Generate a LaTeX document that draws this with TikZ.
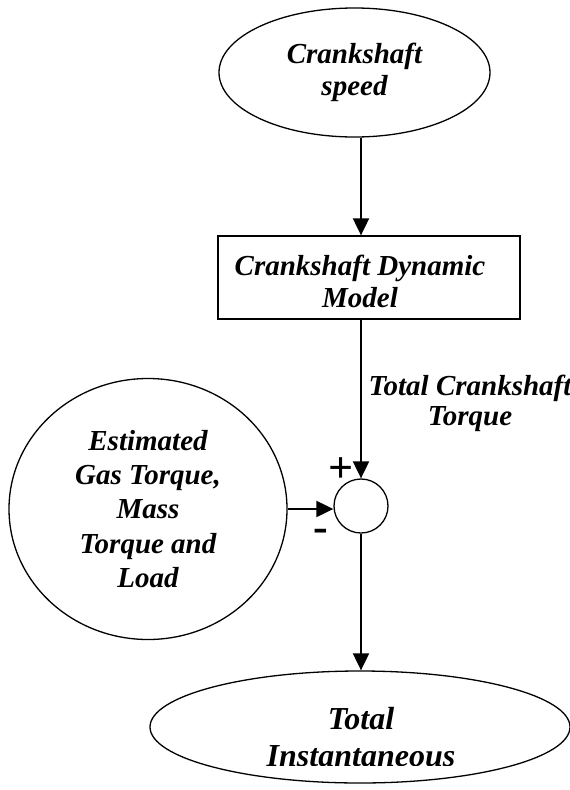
\documentclass[tikz,border=0pt]{standalone}
\usepackage{fontspec}
\setmainfont{Liberation Serif}
\usetikzlibrary{arrows.meta,shapes.geometric}
\begin{document}
\begin{tikzpicture}[x=1pt,y=-1pt,
  shapeline/.style={draw=black,line width=1.3pt,inner sep=0pt},
  lbl/.style={align=center,inner sep=0pt},
  fa/.style={font=\fontsize{29}{32}\selectfont\bfseries\itshape},
  fb/.style={font=\fontsize{29}{34.3}\selectfont\bfseries\itshape},
  fc/.style={font=\fontsize{32}{37}\selectfont\bfseries\itshape},
  flow/.style={line width=2pt,-{Triangle[width=16pt,length=17pt]}}]
\useasboundingbox (0,0) rectangle (570,790);
% shapes
\node[shapeline,ellipse,minimum width=271,minimum height=129,lbl,fa] (speed) at (354.5,72.5) {Crankshaft\\speed};
\node[shapeline,rectangle,minimum width=302,minimum height=83] (dyn) at (369,277.5) {};
\node[lbl,fa] (dyntext) at (360,281) {Crankshaft Dynamic\\Model};
\node[shapeline,circle,minimum size=54] (sum) at (361,506) {};
\node[shapeline,ellipse,minimum width=278,minimum height=261,lbl,fb] (load) at (148,509) {Estimated\\Gas Torque,\\Mass\\Torque and\\Load};
\node[shapeline,ellipse,minimum width=420,minimum height=112] (total) at (360,727) {};
\begin{scope}
  \clip (150,600) rectangle (570,765);
  \node[lbl,fc] (totaltext) at (361,737) {Total\\Instantaneous};
\end{scope}
% labels
\node[lbl,font=\fontsize{29}{30}\selectfont\bfseries\itshape] (tq) at (470,403) {Total Crankshaft\\Torque};
\node[inner sep=0pt,font=\fontsize{44}{44}\selectfont\bfseries] (plus) at (341,470) {+};
\node[inner sep=0pt,font=\fontsize{44}{44}\selectfont\bfseries] (minus) at (321,535) {-};
% connectors
\draw[flow] (speed.south -| sum.north) -- (dyn.north -| sum.north);
\draw[flow] (dyn.south -| sum.north) -- (sum.north);
\draw[flow] (load.east) -- (load.east -| sum.west);
\draw[flow] (sum.south) -- (total.north -| sum.south);
\end{tikzpicture}
\end{document}
